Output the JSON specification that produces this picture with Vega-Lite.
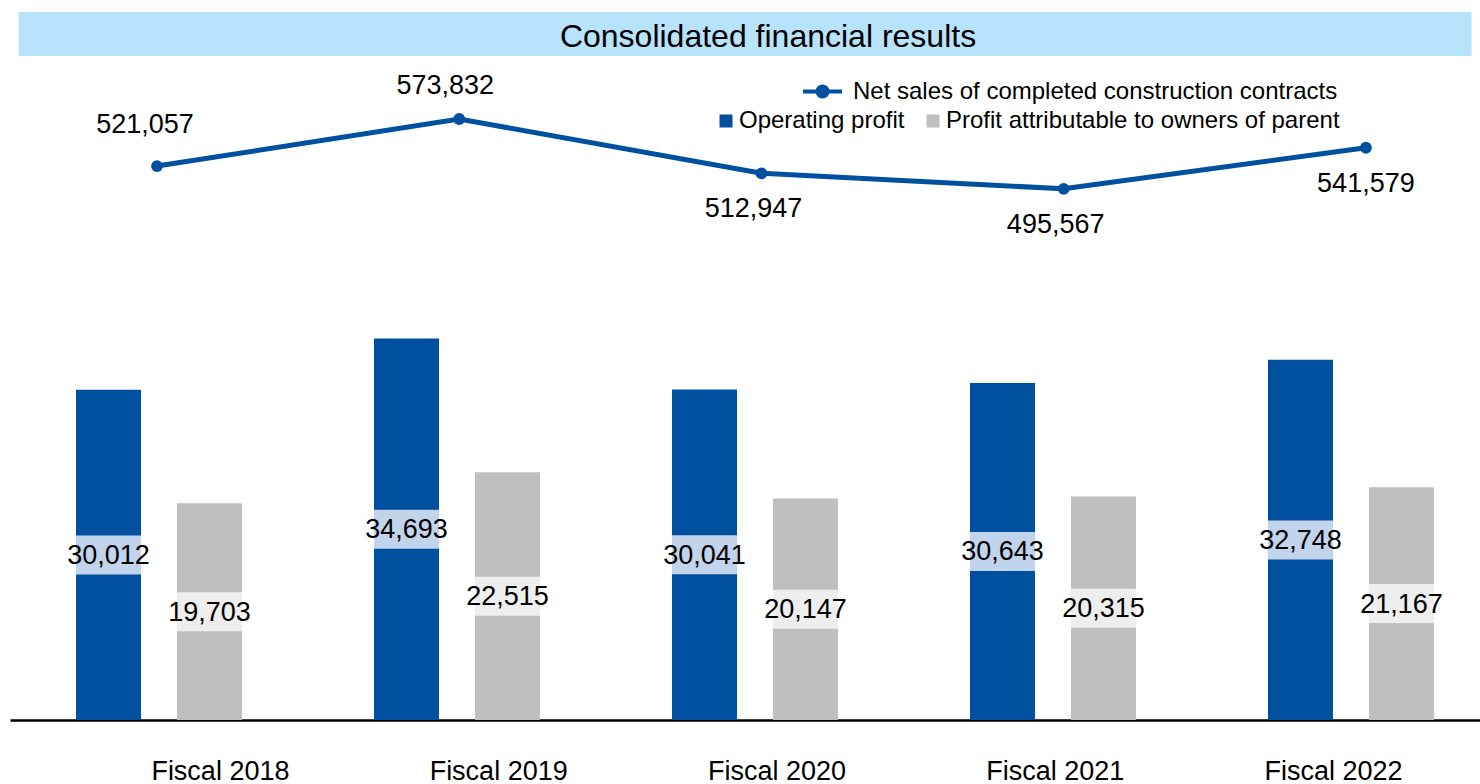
{
  "$schema": "https://vega.github.io/schema/vega-lite/v6.json",
  "autosize": {"type": "pad"},
  "padding": {"left": 10, "top": 12, "right": 0, "bottom": 0},
  "background": "white",
  "config": {"font": "Liberation Sans", "view": {"stroke": null}},
  "center": true,
  "spacing": 4,
  "datasets": {
    "results": [
      {"year": "Fiscal 2018", "series": "Net sales of completed construction contracts", "value": 521057},
      {"year": "Fiscal 2019", "series": "Net sales of completed construction contracts", "value": 573832},
      {"year": "Fiscal 2020", "series": "Net sales of completed construction contracts", "value": 512947},
      {"year": "Fiscal 2021", "series": "Net sales of completed construction contracts", "value": 495567},
      {"year": "Fiscal 2022", "series": "Net sales of completed construction contracts", "value": 541579},
      {"year": "Fiscal 2018", "series": "Operating profit", "value": 30012},
      {"year": "Fiscal 2019", "series": "Operating profit", "value": 34693},
      {"year": "Fiscal 2020", "series": "Operating profit", "value": 30041},
      {"year": "Fiscal 2021", "series": "Operating profit", "value": 30643},
      {"year": "Fiscal 2022", "series": "Operating profit", "value": 32748},
      {"year": "Fiscal 2018", "series": "Profit attributable to owners of parent", "value": 19703},
      {"year": "Fiscal 2019", "series": "Profit attributable to owners of parent", "value": 22515},
      {"year": "Fiscal 2020", "series": "Profit attributable to owners of parent", "value": 20147},
      {"year": "Fiscal 2021", "series": "Profit attributable to owners of parent", "value": 20315},
      {"year": "Fiscal 2022", "series": "Profit attributable to owners of parent", "value": 21167}
    ]
  },
  "vconcat": [
    {
      "width": 1453,
      "height": 44,
      "view": {"fill": "#b8e3fc", "stroke": null},
      "data": {"values": [{"title": "Consolidated financial results"}]},
      "mark": {"type": "text", "fontSize": 32, "color": "#000000", "baseline": "middle", "align": "center", "dx": 23, "dy": 3, "font": "Liberation Sans"},
      "encoding": {"text": {"field": "title", "type": "nominal"}}
    },
    {
      "width": 1470,
      "height": 660,
      "data": {"name": "results"},
      "layer": [
        {
          "transform": [{"filter": {"field": "series", "oneOf": ["Operating profit", "Profit attributable to owners of parent"]}}],
          "mark": {"type": "bar"},
          "encoding": {
            "x": {
              "field": "year", "type": "nominal", "sort": null,
              "scale": {"paddingInner": 0.443, "paddingOuter": 0.188, "align": 0.589},
              "axis": null
            },
            "xOffset": {
              "field": "series", "type": "nominal",
              "sort": ["Operating profit", "Profit attributable to owners of parent"],
              "scale": {"paddingInner": 0.356, "paddingOuter": 0}
            },
            "y": {"field": "value", "type": "quantitative", "scale": {"domain": [0, 60000]}, "axis": null},
            "fill": {
              "field": "series", "type": "nominal",
              "scale": {"domain": ["Operating profit", "Profit attributable to owners of parent"], "range": ["#0050a0", "#bfbfbf"]},
              "legend": {"title": null, "orient": "none", "legendX": 704, "legendY": 97, "direction": "horizontal", "symbolType": "square", "symbolSize": 169, "symbolStrokeWidth": 0, "labelFontSize": 24, "labelColor": "#000000", "labelOffset": 1, "columnPadding": 16, "labelLimit": 0, "labelFont": "Liberation Sans"}
            }
          }
        },
        {
          "transform": [{"filter": {"field": "series", "oneOf": ["Operating profit", "Profit attributable to owners of parent"]}}],
          "encoding": {
            "x": {"field": "year", "type": "nominal", "sort": null, "scale": {"paddingInner": 0.443, "paddingOuter": 0.188, "align": 0.589}, "axis": null},
            "xOffset": {"field": "series", "type": "nominal", "sort": ["Operating profit", "Profit attributable to owners of parent"], "scale": {"paddingInner": 0.356, "paddingOuter": 0}},
            "y": {"field": "value", "type": "quantitative", "scale": {"domain": [0, 120000]}, "axis": null}
          },
          "layer": [
            {
              "mark": {"type": "tick", "thickness": 39, "size": 65, "orient": "horizontal", "opacity": 1},
              "encoding": {
                "color": {
                  "field": "series", "type": "nominal",
                  "scale": {"domain": ["Operating profit", "Profit attributable to owners of parent"], "range": ["#c2d4ec", "#eeeeee"]},
                  "legend": null
                }
              }
            },
            {
              "mark": {"type": "text", "fontSize": 27, "color": "#000000", "baseline": "middle", "dy": 1, "font": "Liberation Sans"},
              "encoding": {"text": {"field": "value", "type": "quantitative", "format": ","}}
            }
          ]
        },
        {
          "transform": [{"filter": {"field": "series", "equal": "Net sales of completed construction contracts"}}],
          "encoding": {
            "x": {"field": "year", "type": "nominal", "sort": null, "scale": {"type": "point", "padding": 0.432, "align": 0.563}, "axis": null},
            "y": {"field": "value", "type": "quantitative", "scale": {"domain": [-100000, 640000]}, "axis": null}
          },
          "layer": [
            {
              "mark": {"type": "line", "strokeWidth": 5},
              "encoding": {
                "stroke": {
                  "field": "series", "type": "nominal",
                  "scale": {"range": ["#0050a0"]},
                  "legend": {
                    "title": null, "orient": "none", "legendX": 791, "legendY": 58,
                    "symbolType": "M-1,0L1,0M0.26,0A0.26,0.26,0,1,1,-0.26,0A0.26,0.26,0,1,1,0.26,0Z",
                    "symbolSize": 1521, "symbolStrokeWidth": 4,
                    "labelFontSize": 24, "labelColor": "#000000", "labelOffset": 9, "labelLimit": 0, "labelFont": "Liberation Sans",
                    "encode": {"symbols": {"update": {"fill": {"value": "#0050a0"}, "stroke": {"value": "#0050a0"}, "strokeWidth": {"value": 4}}}}
                  }
                }
              }
            },
            {
              "mark": {"type": "point", "filled": true, "size": 140, "color": "#0050a0", "opacity": 1}
            },
            {
              "transform": [{"filter": {"field": "year", "equal": "Fiscal 2018"}}],
              "mark": {"type": "text", "fontSize": 27, "dx": -12, "dy": -41, "color": "#000000", "baseline": "middle", "font": "Liberation Sans"},
              "encoding": {"text": {"field": "value", "type": "quantitative", "format": ","}}
            },
            {
              "transform": [{"filter": {"field": "year", "equal": "Fiscal 2019"}}],
              "mark": {"type": "text", "fontSize": 27, "dx": -14, "dy": -33, "color": "#000000", "baseline": "middle", "font": "Liberation Sans"},
              "encoding": {"text": {"field": "value", "type": "quantitative", "format": ","}}
            },
            {
              "transform": [{"filter": {"field": "year", "oneOf": ["Fiscal 2020", "Fiscal 2021"]}}],
              "mark": {"type": "text", "fontSize": 27, "dx": -8, "dy": 36, "color": "#000000", "baseline": "middle", "font": "Liberation Sans"},
              "encoding": {"text": {"field": "value", "type": "quantitative", "format": ","}}
            },
            {
              "transform": [{"filter": {"field": "year", "equal": "Fiscal 2022"}}],
              "mark": {"type": "text", "fontSize": 27, "dx": 0, "dy": 36, "color": "#000000", "baseline": "middle", "font": "Liberation Sans"},
              "encoding": {"text": {"field": "value", "type": "quantitative", "format": ","}}
            }
          ]
        },
        {
          "transform": [{"filter": {"field": "series", "equal": "Operating profit"}}],
          "mark": {"type": "point", "opacity": 0},
          "encoding": {
            "x": {
              "field": "year", "type": "nominal", "sort": null,
              "scale": {"type": "point", "padding": 0.6415, "align": 0.588},
              "axis": {"title": null, "labelAngle": 0, "labelFontSize": 27, "labelColor": "#000000", "labelPadding": 38, "ticks": false, "domainColor": "#000000", "domainWidth": 2.5, "grid": false, "labelFont": "Liberation Sans"}
            }
          }
        }
      ],
      "resolve": {"scale": {"x": "independent", "y": "independent"}}
    }
  ]
}
